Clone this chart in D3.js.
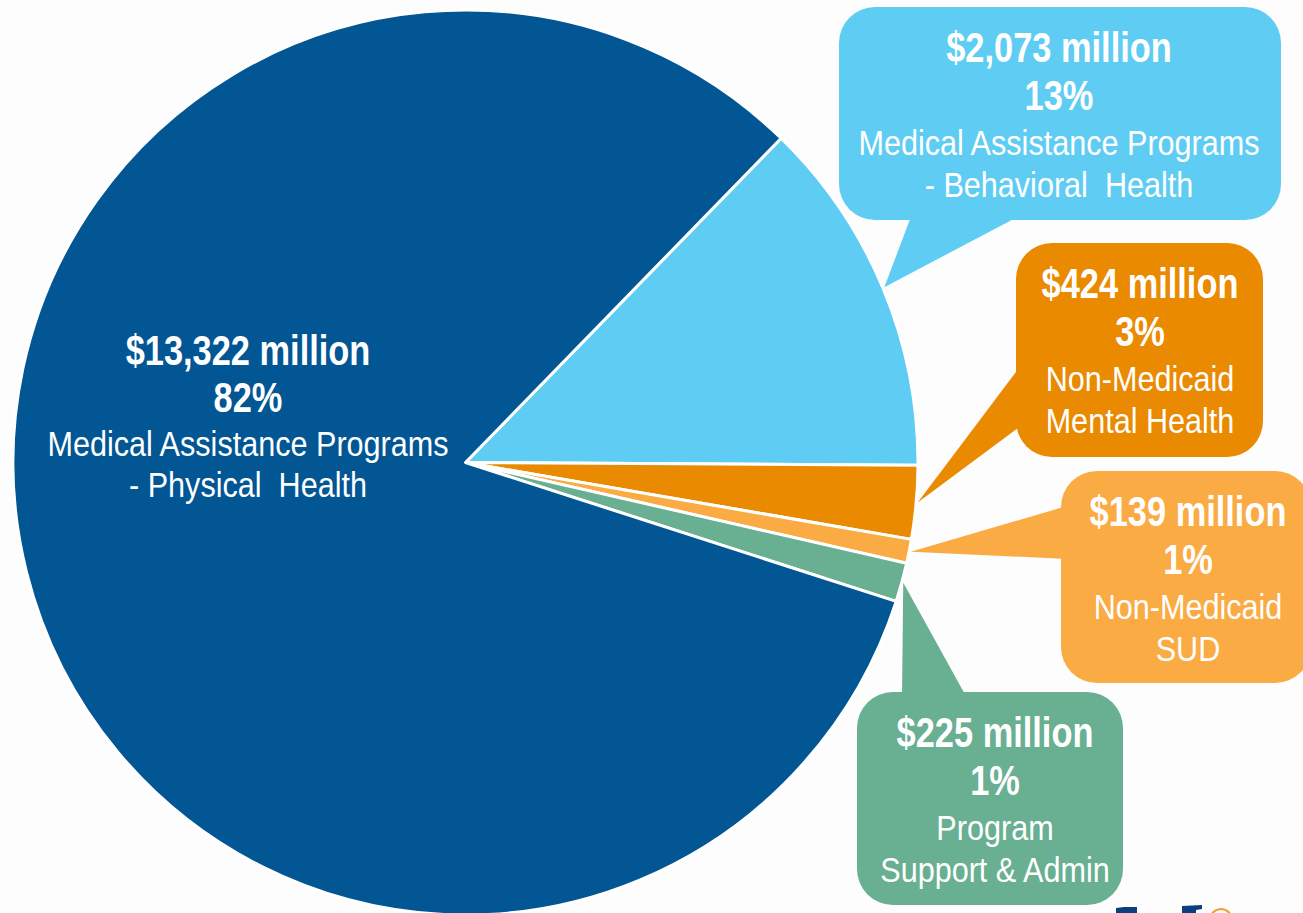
<!DOCTYPE html>
<html>
<head>
<meta charset="utf-8">
<script src="https://cdn.jsdelivr.net/npm/d3@7"></script>
<style>
  html, body { margin: 0; padding: 0; background: #fdfdfd; }
  svg { display: block; }
  text { font-family: "Liberation Sans", Arial, sans-serif; fill: #fff; }
  .amt, .pct { font-weight: bold; font-size: 43px; }
  .desc { font-size: 36px; }
</style>
</head>
<body>
<div id="chart"></div>
<script>
// slices, in drawing order (clockwise from the upper right)
var categories = ["Behavioral Health", "Non-Medicaid Mental Health", "Non-Medicaid SUD", "Program Support & Admin", "Physical Health"];
var amounts = [2073, 424, 139, 225, 13322];
var descLines = [
  ["Medical Assistance Programs", "- Behavioral  Health"],
  ["Non-Medicaid", "Mental Health"],
  ["Non-Medicaid", "SUD"],
  ["Program", "Support & Admin"],
  ["Medical Assistance Programs", "- Physical  Health"]
];
var colors = ["#5fcdf3", "#ea8a00", "#fbab43", "#69af92", "#025694"];

var W = 1303, H = 913;
var cx = 465.5, cy = 462.5, R = 452.5;

var svg = d3.select("#chart").append("svg")
  .attr("width", W)
  .attr("height", H);

var total = d3.sum(amounts);
var fmtAmt = function (v) { return "$" + d3.format(",")(v) + " million"; };
var fmtPct = d3.format(".0%");

var pie = d3.pie()
  .sort(null)
  .startAngle(0.772)
  .endAngle(0.772 + 2 * Math.PI);

var arcs = pie(amounts);
var arc = d3.arc().innerRadius(0).outerRadius(R);
var tipArc = d3.arc().innerRadius(454).outerRadius(454);

var g = svg.append("g").attr("transform", "translate(" + cx + "," + cy + ")");

g.selectAll("path.slice")
  .data(arcs)
  .enter()
  .append("path")
  .attr("class", "slice")
  .attr("d", arc)
  .attr("fill", (d, i) => colors[i])
  .attr("stroke", "#fff")
  .attr("stroke-width", 3)
  .attr("stroke-linejoin", "round");

// callout boxes (box x, y, w, h, tail base points, text centre)
var callouts = [
  { i: 0, x: 839, y: 7, w: 442, h: 213, base: [[912, 214], [1023, 214]], tx: 1059 },
  { i: 1, x: 1016, y: 243, w: 247, h: 214, base: [[1022, 364], [1022, 425]], tx: 1140 },
  { i: 2, x: 1061, y: 471, w: 250, h: 212, base: [[1067, 506], [1067, 559]], tx: 1188 },
  { i: 3, x: 857, y: 692, w: 266, h: 213, base: [[902, 698], [967, 698]], tx: 995 }
];
var lineOffsets = [55, 103, 148, 190];

var cg = svg.selectAll("g.callout")
  .data(callouts)
  .enter()
  .append("g")
  .attr("class", "callout");

cg.append("path")
  .attr("fill", (d) => colors[d.i])
  .attr("d", function (d) {
    var c = tipArc.centroid(arcs[d.i]);
    var tip = [cx + c[0], cy + c[1]];
    return d3.line()([tip, d.base[0], d.base[1]]) + "Z";
  });

cg.append("rect")
  .attr("x", (d) => d.x)
  .attr("y", (d) => d.y)
  .attr("width", (d) => d.w)
  .attr("height", (d) => d.h)
  .attr("rx", 36)
  .attr("fill", (d) => colors[d.i]);

// the source uses a narrow face, so squeeze the text horizontally
function line(sel, cls, x, y, sx, txt) {
  sel.append("text")
    .attr("class", cls)
    .attr("transform", "translate(" + x + "," + y + ") scale(" + sx + ",1)")
    .attr("text-anchor", "middle")
    .style("white-space", "pre")
    .text(txt);
}

function addLabel(sel, x, y0, i, offs) {
  line(sel, "amt", x, y0 + offs[0], 0.8, fmtAmt(amounts[i]));
  line(sel, "pct", x, y0 + offs[1], 0.8, fmtPct(amounts[i] / total));
  line(sel, "desc", x, y0 + offs[2], 0.85, descLines[i][0]);
  line(sel, "desc", x, y0 + offs[3], 0.85, descLines[i][1]);
}

cg.each(function (d) {
  addLabel(d3.select(this), d.tx, d.y, d.i, lineOffsets);
});

// label inside the big slice
addLabel(svg.append("g"), 248, 310, 4, [55, 102, 146, 187]);

// cut-off logo at the lower right
var logo = svg.append("g");
logo.append("path").attr("fill", "#0b3f7f")
  .attr("d", "M1116,913 L1116,908 L1124,907 L1137,907 L1137,913 Z");
logo.append("path").attr("fill", "#0b3f7f")
  .attr("d", "M1182,913 L1182,906 L1202,905 L1202,909 L1196,910 L1196,913 Z");
logo.append("circle").attr("cx", 1221).attr("cy", 920).attr("r", 11)
  .attr("fill", "none").attr("stroke", "#f0a030").attr("stroke-width", 2);
</script>
</body>
</html>
